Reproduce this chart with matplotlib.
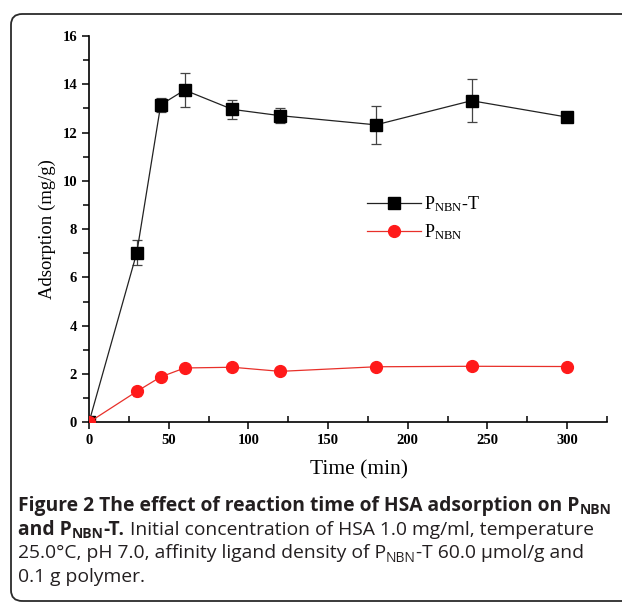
import matplotlib
matplotlib.use("Agg")
import matplotlib.pyplot as plt
from matplotlib.patches import FancyBboxPatch
from matplotlib.lines import Line2D
from matplotlib.ticker import MultipleLocator

# data
time_min = [0, 30, 45, 60, 90, 120, 180, 240, 300]
pnbn_t = [0, 7.03, 13.15, 13.76, 12.96, 12.70, 12.32, 13.32, 12.64]
pnbn_t_err = [0, 0.5, 0.3, 0.7, 0.4, 0.3, 0.8, 0.9, 0.1]
pnbn = [0, 1.28, 1.88, 2.25, 2.28, 2.11, 2.30, 2.32, 2.31]
pnbn_err = [0, 0.2, 0.1, 0.1, 0.12, 0.12, 0.12, 0.1, 0.05]
labels = [r'$\mathregular{P_{NBN}}$-T', r'$\mathregular{P_{NBN}}$']

W, H = 622, 603
plt.rcParams['mathtext.fontset'] = 'custom'
plt.rcParams['mathtext.rm'] = 'Liberation Serif'
serif = 'Liberation Serif'
cap_font = 'Open Sans'

fig = plt.figure(figsize=(W / 100, H / 100), dpi=100)

# rounded frame round the figure + caption
frame = FancyBboxPatch((11 / W, 1 - 601 / H), 650 / W, 587 / H,
                       boxstyle="round,pad=0,rounding_size=0.018",
                       transform=fig.transFigure, fill=False,
                       edgecolor='#2b2b2b', linewidth=1.3, clip_on=False)
fig.patches.append(frame)

ax = fig.add_axes([89 / W, 1 - 422.3 / H, (607 - 89) / W, (422.3 - 36) / H])

black_style = dict(color='#222222', lw=0.9, marker='s', ms=8, mfc='black', mec='black')
red_style = dict(color='#e8302a', lw=0.9, marker='o', ms=8.5, mfc='#ff1a1a', mec='#ff1a1a')

ax.errorbar(time_min, pnbn_t, yerr=pnbn_t_err, ecolor='#444444',
            elinewidth=0.9, capsize=3.5, capthick=0.9, zorder=3, **black_style)
ax.errorbar(time_min, pnbn, yerr=pnbn_err, ecolor='#e8302a',
            elinewidth=0.9, capsize=3, capthick=0.9, zorder=3, **red_style)

ax.set_xlim(0, 325)
ax.set_ylim(0, 16)
ax.xaxis.set_major_locator(MultipleLocator(50))
ax.xaxis.set_minor_locator(MultipleLocator(25))
ax.yaxis.set_major_locator(MultipleLocator(2))
ax.yaxis.set_minor_locator(MultipleLocator(1))
ax.spines['top'].set_visible(False)
ax.spines['right'].set_visible(False)
for s in ['left', 'bottom']:
    ax.spines[s].set_linewidth(1.2)
ax.tick_params(axis='x', which='major', direction='out', length=5, width=1.1)
ax.tick_params(axis='x', which='minor', direction='in', length=4, width=1.1)
ax.tick_params(axis='y', which='both', direction='out', width=1.1)
ax.tick_params(axis='y', which='major', length=5)
ax.tick_params(axis='y', which='minor', length=4)
for lab in ax.get_xticklabels() + ax.get_yticklabels():
    lab.set_fontfamily(serif)
    lab.set_fontweight('bold')
    lab.set_fontsize(10.5)

ax.set_xlabel('Time (min)', fontfamily=serif, fontsize=15.5, va='top')
ax.xaxis.set_label_coords((359 - 89) / 518, -0.097)
ax.set_ylabel('Adsorption (mg/g)', fontfamily=serif, fontsize=13.5, labelpad=5)

# legend without error bars on the handles
handles = [Line2D([], [], **black_style), Line2D([], [], **red_style)]
leg = ax.legend(handles, labels, loc='upper left', bbox_to_anchor=(0.505, 0.632),
                frameon=False, handlelength=3, handletextpad=0.15, labelspacing=0.45,
                prop={'family': serif, 'size': 13})

# caption with mixed weights and subscripts
renderer = fig.canvas.get_renderer()
cap_size = 13.9


def draw_line(pieces, x0, y0):
    x = x0
    for txt, weight, sub in pieces:
        size = cap_size * 0.72 if sub else cap_size
        y = y0 + 3.5 if sub else y0
        t = fig.text(x / W, 1 - y / H, txt, fontsize=size, fontweight=weight,
                     fontfamily=cap_font, color='#231f20', va='baseline', ha='left')
        bb = t.get_window_extent(renderer)
        x += bb.width


draw_line([("Figure 2 The effect of reaction time of HSA adsorption on P", 'bold', False),
           ("NBN", 'bold', True)], 18, 511)
draw_line([("and P", 'bold', False), ("NBN", 'bold', True), ("-T.", 'bold', False),
           (" Initial concentration of HSA 1.0 mg/ml, temperature", 'normal', False)], 18, 535)
draw_line([("25.0°C, pH 7.0, affinity ligand density of P", 'normal', False),
           ("NBN", 'normal', True), ("-T 60.0 µmol/g and", 'normal', False)], 18, 558.5)
draw_line([("0.1 g polymer.", 'normal', False)], 18, 582)

fig.savefig('out.png', dpi=100)
